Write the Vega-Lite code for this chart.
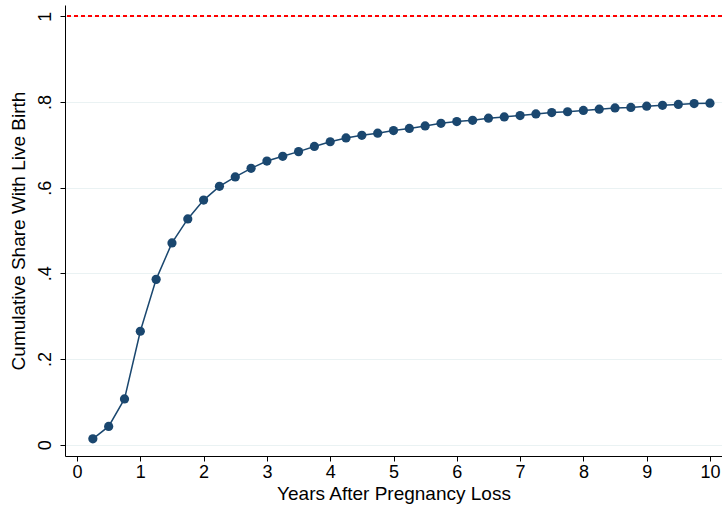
{
  "$schema": "https://vega.github.io/schema/vega-lite/v6.json",
  "width": 657,
  "height": 451,
  "autosize": "none",
  "padding": {"left": 65, "top": 5, "right": 0, "bottom": 56},
  "background": "white",
  "config": {
    "view": {"stroke": null},
    "font": "Liberation Sans",
    "axis": {
      "domainColor": "#000000",
      "domainWidth": 1,
      "tickColor": "#000000",
      "tickSize": 5,
      "labelFont": "Liberation Sans",
      "titleFont": "Liberation Sans",
      "labelFontSize": 18,
      "titleFontSize": 19,
      "labelColor": "#000000",
      "titleColor": "#000000",
      "titleFontWeight": "normal",
      "gridColor": "#eaf2f3",
      "gridWidth": 1.2
    }
  },
  "data": {
    "values": [
      {"years": 0.25, "share": 0.014},
      {"years": 0.5, "share": 0.043},
      {"years": 0.75, "share": 0.107},
      {"years": 1.0, "share": 0.265},
      {"years": 1.25, "share": 0.386},
      {"years": 1.5, "share": 0.471},
      {"years": 1.75, "share": 0.527},
      {"years": 2.0, "share": 0.571},
      {"years": 2.25, "share": 0.603},
      {"years": 2.5, "share": 0.625},
      {"years": 2.75, "share": 0.645},
      {"years": 3.0, "share": 0.662},
      {"years": 3.25, "share": 0.673},
      {"years": 3.5, "share": 0.684},
      {"years": 3.75, "share": 0.696},
      {"years": 4.0, "share": 0.707},
      {"years": 4.25, "share": 0.716},
      {"years": 4.5, "share": 0.722},
      {"years": 4.75, "share": 0.727},
      {"years": 5.0, "share": 0.733},
      {"years": 5.25, "share": 0.738},
      {"years": 5.5, "share": 0.744},
      {"years": 5.75, "share": 0.750},
      {"years": 6.0, "share": 0.754},
      {"years": 6.25, "share": 0.757},
      {"years": 6.5, "share": 0.762},
      {"years": 6.75, "share": 0.765},
      {"years": 7.0, "share": 0.768},
      {"years": 7.25, "share": 0.772},
      {"years": 7.5, "share": 0.775},
      {"years": 7.75, "share": 0.777},
      {"years": 8.0, "share": 0.780},
      {"years": 8.25, "share": 0.783},
      {"years": 8.5, "share": 0.786},
      {"years": 8.75, "share": 0.787},
      {"years": 9.0, "share": 0.790},
      {"years": 9.25, "share": 0.792},
      {"years": 9.5, "share": 0.794},
      {"years": 9.75, "share": 0.796},
      {"years": 10.0, "share": 0.797}
    ]
  },
  "layer": [
    {
      "mark": {"type": "rule", "color": "#ff0000", "strokeDash": [4, 3], "strokeWidth": 1.5},
      "encoding": {"y": {"datum": 1}}
    },
    {
      "mark": {"type": "line", "color": "#1a476f", "strokeWidth": 1.5},
      "encoding": {
        "x": {
          "field": "years", "type": "quantitative",
          "scale": {"domain": [-0.19, 10.19], "nice": false, "zero": false},
          "axis": {
            "title": "Years After Pregnancy Loss",
            "values": [0, 1, 2, 3, 4, 5, 6, 7, 8, 9, 10],
            "format": "d",
            "grid": false,
            "labelPadding": 2,
            "titlePadding": 3
          }
        },
        "y": {
          "field": "share", "type": "quantitative",
          "scale": {"domain": [-0.026, 1.026], "nice": false, "zero": false},
          "axis": {
            "title": "Cumulative Share With Live Birth",
            "values": [0, 0.2, 0.4, 0.6, 0.8, 1],
            "grid": true,
            "labelAngle": -90,
            "labelAlign": "center",
            "labelBaseline": "bottom",
            "labelPadding": 6,
            "titlePadding": 8,
            "labelExpr": "datum.value == 0 ? '0' : datum.value == 1 ? '1' : replace(format(datum.value, '.1f'), '0.', '.')"
          }
        }
      }
    },
    {
      "mark": {"type": "point", "filled": true, "color": "#1a476f", "size": 85, "opacity": 1},
      "encoding": {
        "x": {"field": "years", "type": "quantitative"},
        "y": {"field": "share", "type": "quantitative"}
      }
    }
  ]
}
